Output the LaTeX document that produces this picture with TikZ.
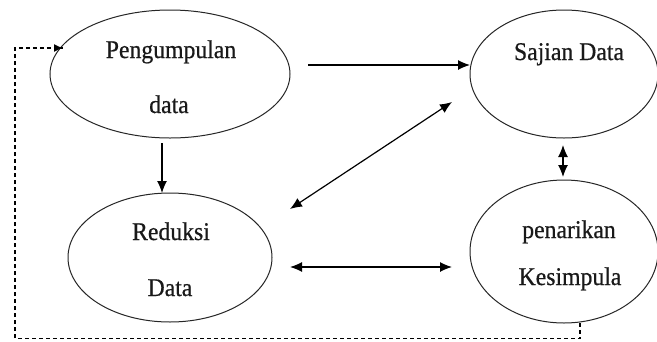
\documentclass[tikz,border=0pt]{standalone}
\usepackage{fontspec}
\setmainfont{Liberation Serif}
\newfontfamily\lblfont[FakeBold=0.6]{Liberation Serif}
\usetikzlibrary{shapes.geometric,arrows.meta}
\newcommand{\lbltext}[1]{\scalebox{0.93}[1]{#1}}
\begin{document}
\begin{tikzpicture}[x=1pt,y=-1pt,
  oval/.style={draw=black!85, ellipse, inner sep=0pt, line width=1pt},
  lbl/.style={font=\lblfont\fontsize{25.5}{30}\selectfont, anchor=base, inner sep=0pt, text=black!90},
  arr/.style={line width=1.2pt, -{Latex[length=12pt,width=10pt]}},
  darr/.style={line width=1.2pt, {Latex[length=12pt,width=10pt]}-{Latex[length=12pt,width=10pt]}},
  loopline/.style={line width=1.3pt, dash pattern=on 4pt off 3pt}]
\useasboundingbox (0,0) rectangle (657,341);
\fill[white] (0,0) rectangle (657,341);
% ellipses
\node[oval, minimum width=240pt, minimum height=128pt] (peng) at (170,74) {};
\node[oval, minimum width=188pt, minimum height=128pt] (saj) at (564,74) {};
\node[oval, minimum width=204pt, minimum height=129pt] (red) at (170,257.5) {};
\node[oval, minimum width=188pt, minimum height=143pt] (pen) at (564,251.5) {};
% texts
\node[lbl] (t1) at (171,58) {\lbltext{Pengumpulan}};
\node[lbl] (t2) at (169,113) {\lbltext{data}};
\node[lbl] (t3) at (569,60) {\lbltext{Sajian Data}};
\node[lbl] (t4) at (171,240) {\lbltext{Reduksi}};
\node[lbl] (t5) at (170,296) {\lbltext{Data}};
\node[lbl] (t6) at (569,238) {\lbltext{penarikan}};
\node[lbl] (t7) at (570,285) {\lbltext{Kesimpula}};
% connector ends
\coordinate (pengE) at (308,65);
\coordinate (sajW) at (470,65);
\coordinate (pengS) at (162,143);
\coordinate (redN) at (162,193);
\coordinate (redNE) at (290,209);
\coordinate (sajSW) at (452,102);
\coordinate (redE) at (290,267);
\coordinate (penW) at (452,267);
\coordinate (sajS) at (563,145);
\coordinate (penN) at (563,177);
\coordinate (penS) at (580,323);
\coordinate (c1) at (580,338.5);
\coordinate (c2) at (15,338.5);
\coordinate (c3) at (15,48);
\coordinate (pengW) at (63,48);
% connectors
\draw[arr] (pengE) -- (sajW);
\draw[arr] (pengS) -- (redN);
\draw[darr] (redNE) -- (sajSW);
\draw[darr] (redE) -- (penW);
\draw[darr] (sajS) -- (penN);
\draw[loopline] (penS) -- (c1) -- (c2) -- (c3) -- (pengW);
\draw[line width=1.2pt, -{Latex[length=9pt,width=8pt]}] (54,48) -- (pengW);
\end{tikzpicture}
\end{document}
